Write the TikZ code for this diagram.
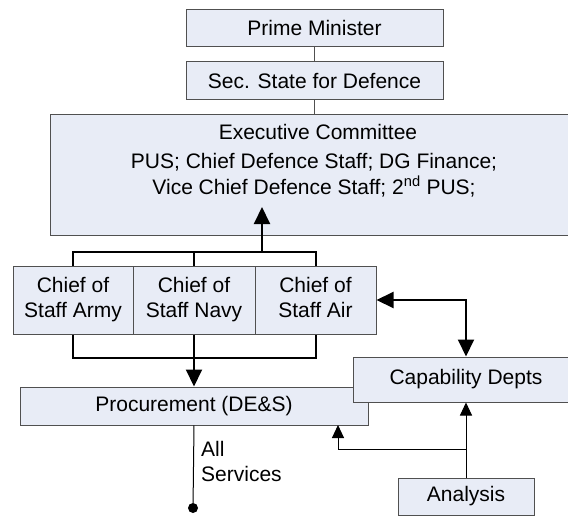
\documentclass[tikz,border=0pt]{standalone}
\usepackage{fontspec}
\setmainfont{Liberation Sans}
\usetikzlibrary{arrows.meta}
\definecolor{boxfill}{RGB}{232,236,246}
\definecolor{boxline}{RGB}{80,80,80}
\tikzset{
  orgbox/.style={draw=boxline, line width=1pt, fill=boxfill, inner sep=0pt, align=center},
  heavy/.style={draw=black, line width=2pt},
  light/.style={draw=black, line width=1pt},
  bigtip/.style={-{Triangle[length=17pt,width=16pt]}},
  smalltip/.style={-{Triangle[length=13pt,width=12pt]}},
  lbl/.style={inner sep=0pt, align=center}
}
\begin{document}
\begin{tikzpicture}[x=1pt,y=-1pt,font=\fontsize{21}{25}\selectfont]
\useasboundingbox (0,0) rectangle (568,516);
\clip (0,0) rectangle (568,516);
% boxes
\node[orgbox, minimum width=257, minimum height=37] (pm) at (314.5,28) {Prime Minister};
\node[orgbox, minimum width=257, minimum height=38] (ss) at (314.5,81) {Sec. State for Defence};
\node[orgbox, minimum width=530, minimum height=120] (exec) at (315,175) {};
\node[lbl] (exectitle) at (318,132) {Executive Committee};
\node[lbl, font=\fontsize{21}{26}\selectfont] (execmembers) at (314,175) {PUS; Chief Defence Staff; DG Finance;\\Vice Chief Defence Staff; 2\textsuperscript{nd} PUS;};
\node[orgbox, minimum width=120, minimum height=68] (army) at (73,300) {Chief of\\Staff Army};
\node[orgbox, minimum width=122, minimum height=68] (navy) at (194,300) {Chief of\\Staff Navy};
\node[orgbox, minimum width=121, minimum height=68] (air) at (315.5,300) {Chief of\\Staff Air\vphantom{y}};
\node[orgbox, minimum width=348, minimum height=38] (proc) at (194,406) {Procurement (DE\&S)};
\node[orgbox, minimum width=226, minimum height=45] (cap) at (466,379.5) {Capability Depts};
\node[orgbox, minimum width=136, minimum height=37] (analysis) at (466,496.5) {Analysis};
\node[circle, fill=black, inner sep=0pt, minimum size=10] (dot) at (193,508) {};
\node[lbl, align=left, anchor=west] (allsvc) at (201,461.5) {All\\Services};
% coordinates
\coordinate (busTop) at (262,252);
\coordinate (execIn) at (262,207);
\coordinate (busBot) at (194,358);
\coordinate (branch) at (466,449);
\coordinate (procIn) at (338,425);
% connectors
\draw[light, draw=boxline] (pm.south) -- (ss.north);
\draw[light, draw=boxline] (ss.south) -- (ss.south |- exec.north);
\draw[heavy] (army.north) |- (air.north |- busTop) -- (air.north);
\draw[heavy] (navy.north) -- (navy.north |- busTop);
\draw[heavy, bigtip] (busTop) -- (execIn);
\draw[heavy] (army.south) |- (air.south |- busBot) -- (air.south);
\draw[heavy, bigtip] (navy.south) -- (proc.north);
\draw[heavy, {Triangle[length=17pt,width=16pt]}-{Triangle[length=17pt,width=16pt]}] (air.east) -| (cap.north);
\draw[light, smalltip] (analysis.north) -- (cap.south);
\draw[light, smalltip] (branch) -| (procIn);
\draw[light] (proc.south) -- (dot);
\end{tikzpicture}
\end{document}
